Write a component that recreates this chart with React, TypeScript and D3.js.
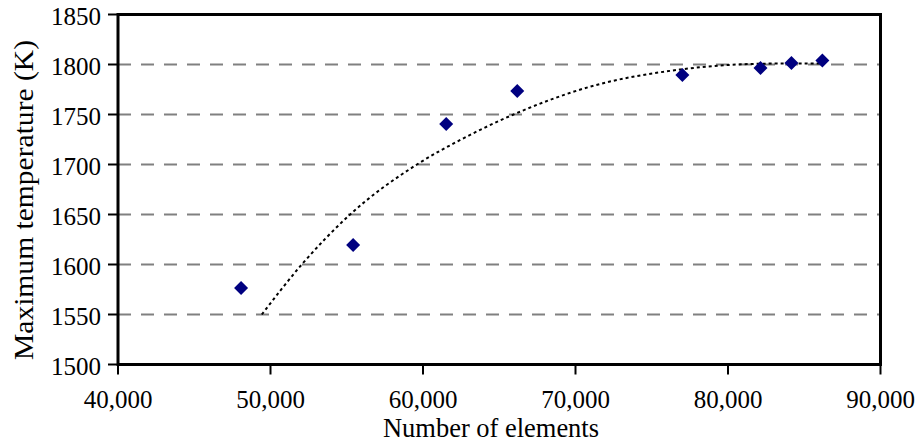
import React from "react";
import * as d3 from "d3";

const elements = [48070, 55420, 61520, 66180, 77010, 82130, 84160, 86190];
const maxTemp = [1576.5, 1619.5, 1740.5, 1773.5, 1789.5, 1796.5, 1801.5, 1804];

const trendX = [49430, 52050, 55220, 59600, 62500, 65940, 71000, 76880, 80600, 83500, 86200];
const trendY = [1550, 1600, 1650, 1700, 1725, 1750, 1778, 1795, 1800, 1801, 1801];

const xTicks = [40000, 50000, 60000, 70000, 80000, 90000];
const yTicks = [1500, 1550, 1600, 1650, 1700, 1750, 1800, 1850];

const W = 922;
const H = 448;
const L = 118;
const R = 880.5;
const T = 14.5;
const B = 364.5;

export default function App() {
  const x = d3.scaleLinear().domain([40000, 90000]).range([L, R]);
  const y = d3.scaleLinear().domain([1500, 1850]).range([B, T]);
  const fmt = d3.format(",");
  const font = "'Liberation Serif', 'Times New Roman', serif";

  const trend = d3
    .line<number>()
    .x((_, i) => x(trendX[i]))
    .y((d) => y(d))
    .curve(d3.curveMonotoneX)(trendY);

  return (
    <svg
      width={W}
      height={H}
      style={{ position: "absolute", left: 0, top: 0, background: "#fff", fontFamily: font }}
    >
      {yTicks
        .filter((t) => t !== 1500 && t !== 1850)
        .map((t) => (
          <line
            key={"g" + t}
            x1={L}
            x2={R}
            y1={y(t)}
            y2={y(t)}
            stroke="#808080"
            strokeWidth={2}
            strokeDasharray="13 10"
          />
        ))}
      <path d={trend || ""} fill="none" stroke="#000" strokeWidth={2} strokeDasharray="3 3" />
      {elements.map((e, i) => {
        const cx = x(e);
        const cy = y(maxTemp[i]);
        const s = 7;
        return (
          <path
            key={"p" + i}
            d={`M${cx},${cy - s}L${cx + s},${cy}L${cx},${cy + s}L${cx - s},${cy}Z`}
            fill="#000080"
          />
        );
      })}
      <rect x={L} y={T} width={R - L} height={B - T} fill="none" stroke="#000" strokeWidth={3} />
      {yTicks.map((t) => (
        <g key={"y" + t}>
          <line x1={L - 10} x2={L} y1={y(t)} y2={y(t)} stroke="#000" strokeWidth={2} />
          <text x={L - 17} y={y(t)} dy="0.42em" textAnchor="end" fontSize={25}>
            {t}
          </text>
        </g>
      ))}
      {xTicks.map((t) => (
        <g key={"x" + t}>
          <line x1={x(t)} x2={x(t)} y1={B} y2={B + 10} stroke="#000" strokeWidth={2} />
          <text x={x(t)} y={B + 43.5} textAnchor="middle" fontSize={25}>
            {fmt(t)}
          </text>
        </g>
      ))}
      <text
        x={491}
        y={437}
        textAnchor="middle"
        fontSize={27.5}
        textLength={216}
        lengthAdjust="spacingAndGlyphs"
      >
        Number of elements
      </text>
      <text
        transform={`translate(33,200) rotate(-90)`}
        textAnchor="middle"
        fontSize={28}
        textLength={320}
        lengthAdjust="spacingAndGlyphs"
      >
        Maximum temperature (K)
      </text>
    </svg>
  );
}
